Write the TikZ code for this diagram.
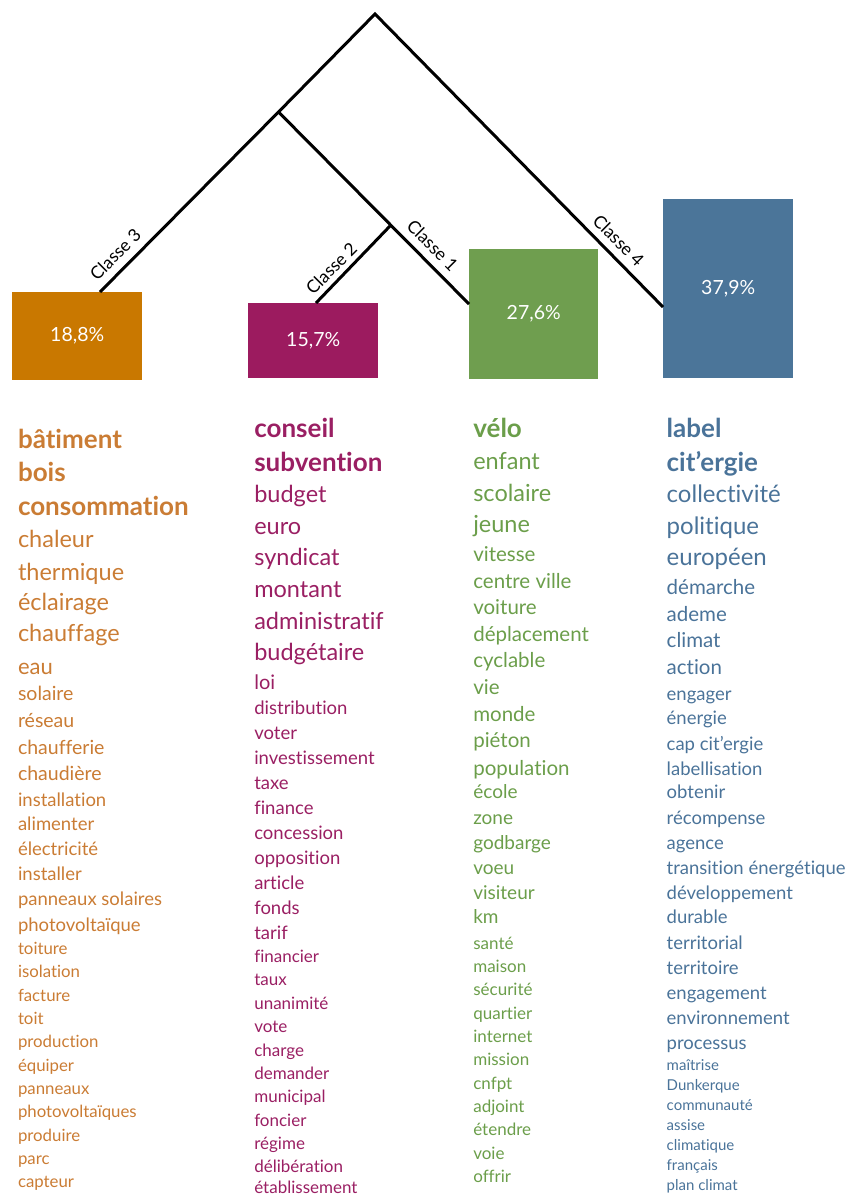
\documentclass[tikz,border=0pt]{standalone}
\usepackage{fontspec}
\setmainfont{Lato}[Ligatures=NoCommon]
\definecolor{obox}{HTML}{C97800}
\definecolor{otext}{HTML}{CA7C34}
\definecolor{pbox}{HTML}{9C1B5F}
\definecolor{ptext}{HTML}{9A1F63}
\definecolor{gbox}{HTML}{6F9E4F}
\definecolor{gtext}{HTML}{6B9E4A}
\definecolor{bbox}{HTML}{4B7599}
\definecolor{btext}{HTML}{4A7399}
\tikzset{
  w/.style={anchor=base west, inner sep=0pt, outer sep=0pt},
  ow/.style={w, text=otext},
  pw/.style={w, text=ptext},
  gw/.style={w, text=gtext},
  bw/.style={w, text=btext},
  fb/.style={font=\fontsize{26}{30}\selectfont\bfseries},
  fa/.style={font=\fontsize{23.5}{28}\selectfont},
  fa4/.style={font=\fontsize{24}{28}\selectfont},
  fe/.style={font=\fontsize{22}{26}\selectfont},
  fc/.style={font=\fontsize{20.5}{24}\selectfont},
  fl/.style={font=\fontsize{20}{24}\selectfont},
  fd/.style={font=\fontsize{19.5}{23}\selectfont},
  fg/.style={font=\fontsize{19}{23}\selectfont},
  fh/.style={font=\fontsize{18.5}{22}\selectfont},
  fi/.style={font=\fontsize{17}{20}\selectfont},
  fj/.style={font=\fontsize{16.8}{20}\selectfont},
  fk/.style={font=\fontsize{15}{18}\selectfont},
  box/.style={anchor=north west, inner sep=0pt, text=white, font=\fontsize{19.5}{23}\selectfont},
  cls/.style={inner sep=0pt, font=\fontsize{17.5}{20}\selectfont},
  branch/.style={line width=3pt, line join=miter, black},
}
\begin{document}
\begin{tikzpicture}[x=1pt, y=-1pt]
\useasboundingbox (0,0) rectangle (850,1196);
% boxes
\node[box, fill=obox, minimum width=130pt, minimum height=88pt] (c3) at (12,292) {18,8\%};
\node[box, fill=pbox, minimum width=130pt, minimum height=75pt] (c2) at (248,303) {15,7\%};
\node[box, fill=gbox, minimum width=129pt, minimum height=130pt] (c1) at (469,249) {27,6\%};
\node[box, fill=bbox, minimum width=130pt, minimum height=179pt] (c4) at (663,199) {37,9\%};
% tree
\coordinate (root) at (375,14);
\coordinate (n1) at (278.5,112);
\coordinate (n2) at (390,226);
\draw[branch] ([xshift=88pt]c3.north west) -- (n1) -- (root) -- ([yshift=-108pt]c4.north west);
\draw[branch] (n1) -- ([yshift=-55pt]c1.north west);
\draw[branch] (n2) -- ([xshift=68pt]c2.north west);
% class labels
\node[cls, rotate=45] (l3) at (115.3,254.3) {Classe 3};
\node[cls, rotate=45] (l2) at (331.3,268.3) {Classe 2};
\node[cls, rotate=-45] (l1) at (432.6,245.4) {Classe 1};
\node[cls, rotate=-45] (l4) at (618.6,240.4) {Classe 4};
% orange column
\node[ow, fb] (o1) at (18,448.3) {bâtiment};
\node[ow, fb] (o2) at (18,481) {bois};
\node[ow, fb] (o3) at (18,515) {consommation};
\node[ow, fa] (o4) at (18,547.7) {chaleur};
\node[ow, fa] (o5) at (18,580) {thermique};
\node[ow, fa] (o6) at (18,610.7) {éclairage};
\node[ow, fa] (o7) at (18,641.7) {chauffage};
\node[ow, fe] (o8) at (18,674) {eau};
\node[ow, fd] (o9) at (18,700.7) {solaire};
\node[ow, fd] (o10) at (18,727) {réseau};
\node[ow, fd] (o11) at (18,754) {chaufferie};
\node[ow, fd] (o12) at (18,780.7) {chaudière};
\node[ow, fh] (o13) at (18,806) {installation};
\node[ow, fh] (o14) at (18,830.7) {alimenter};
\node[ow, fh] (o15) at (18,855.7) {électricité};
\node[ow, fh] (o16) at (18,880.7) {installer};
\node[ow, fh] (o17) at (18,905.7) {panneaux solaires};
\node[ow, fh] (o18) at (18,931) {photovoltaïque};
\node[ow, fj] (o19) at (18,954.3) {toiture};
\node[ow, fj] (o20) at (18,977.7) {isolation};
\node[ow, fj] (o21) at (18,1001) {facture};
\node[ow, fj] (o22) at (18,1024.3) {toit};
\node[ow, fj] (o23) at (18,1047.7) {production};
\node[ow, fj] (o24) at (18,1071) {équiper};
\node[ow, fj] (o25) at (18,1094.3) {panneaux};
\node[ow, fj] (o26) at (18,1117.7) {photovoltaïques};
\node[ow, fj] (o27) at (18,1141) {produire};
\node[ow, fj] (o28) at (18,1164.3) {parc};
\node[ow, fj] (o29) at (18,1187.7) {capteur};
% purple column
\node[pw, fb] (q1) at (254.3,437.7) {conseil};
\node[pw, fb] (q2) at (254.3,471) {subvention};
\node[pw, fa] (q3) at (254.3,502.3) {budget};
\node[pw, fa] (q4) at (254.3,534.3) {euro};
\node[pw, fa] (q5) at (254.3,565.7) {syndicat};
\node[pw, fa] (q6) at (254.3,597.7) {montant};
\node[pw, fa] (q7) at (254.3,629.3) {administratif};
\node[pw, fa] (q8) at (254.3,660.7) {budgétaire};
\node[pw, fl] (q9) at (254.3,689) {loi};
\node[pw, fh] (q10) at (254.3,714.3) {distribution};
\node[pw, fh] (q11) at (254.3,739.3) {voter};
\node[pw, fh] (q12) at (254.3,764.3) {investissement};
\node[pw, fh] (q13) at (254.3,789.3) {taxe};
\node[pw, fh] (q14) at (254.3,814.3) {finance};
\node[pw, fh] (q15) at (254.3,839.3) {concession};
\node[pw, fh] (q16) at (254.3,864.3) {opposition};
\node[pw, fh] (q17) at (254.3,889.3) {article};
\node[pw, fh] (q18) at (254.3,914) {fonds};
\node[pw, fh] (q19) at (254.3,939) {tarif};
\node[pw, fi] (q20) at (254.3,962.3) {financier};
\node[pw, fi] (q21) at (254.3,985.7) {taux};
\node[pw, fi] (q22) at (254.3,1009.3) {unanimité};
\node[pw, fi] (q23) at (254.3,1032.7) {vote};
\node[pw, fi] (q24) at (254.3,1056) {charge};
\node[pw, fi] (q25) at (254.3,1079.3) {demander};
\node[pw, fi] (q26) at (254.3,1102.7) {municipal};
\node[pw, fi] (q27) at (254.3,1126) {foncier};
\node[pw, fi] (q28) at (254.3,1149.3) {régime};
\node[pw, fi] (q29) at (254.3,1172.7) {délibération};
\node[pw, fi] (q30) at (254.3,1193.5) {établissement};
% green column
\node[gw, fb] (g1) at (473.3,437.7) {vélo};
\node[gw, fa] (g2) at (473.3,469.3) {enfant};
\node[gw, fa] (g3) at (473.3,501) {scolaire};
\node[gw, fa] (g4) at (473.3,532.7) {jeune};
\node[gw, fc] (g5) at (473.3,561.7) {vitesse};
\node[gw, fc] (g6) at (473.3,588.3) {centre ville};
\node[gw, fc] (g7) at (473.3,614.3) {voiture};
\node[gw, fc] (g8) at (473.3,641) {déplacement};
\node[gw, fc] (g9) at (473.3,667.7) {cyclable};
\node[gw, fc] (g10) at (473.3,694.3) {vie};
\node[gw, fc] (g11) at (473.3,721) {monde};
\node[gw, fc] (g12) at (473.3,747.7) {piéton};
\node[gw, fc] (g13) at (473.3,775) {population};
\node[gw, fg] (g14) at (473.3,798.5) {école};
\node[gw, fg] (g15) at (473.3,824.3) {zone};
\node[gw, fg] (g16) at (473.3,849.3) {godbarge};
\node[gw, fg] (g17) at (473.3,874.3) {voeu};
\node[gw, fg] (g18) at (473.3,899.3) {visiteur};
\node[gw, fg] (g19) at (473.3,923.3) {km};
\node[gw, fi] (g20) at (473.3,949) {santé};
\node[gw, fi] (g21) at (473.3,972.3) {maison};
\node[gw, fi] (g22) at (473.3,995.7) {sécurité};
\node[gw, fi] (g23) at (473.3,1019) {quartier};
\node[gw, fi] (g24) at (473.3,1042.3) {internet};
\node[gw, fi] (g25) at (473.3,1065.7) {mission};
\node[gw, fi] (g26) at (473.3,1089) {cnfpt};
\node[gw, fi] (g27) at (473.3,1112.3) {adjoint};
\node[gw, fi] (g28) at (473.3,1135.7) {étendre};
\node[gw, fi] (g29) at (473.3,1159) {voie};
\node[gw, fi] (g30) at (473.3,1182.3) {offrir};
% blue column
\node[bw, fb] (b1) at (666.7,437.7) {label};
\node[bw, fb] (b2) at (666.7,471) {cit’ergie};
\node[bw, fa4] (b3) at (666.7,502.7) {collectivité};
\node[bw, fa4] (b4) at (666.7,534.3) {politique};
\node[bw, fa4] (b5) at (666.7,565.7) {européen};
\node[bw, fc] (b6) at (666.7,594.3) {démarche};
\node[bw, fc] (b7) at (666.7,621) {ademe};
\node[bw, fc] (b8) at (666.7,647.7) {climat};
\node[bw, fc] (b9) at (666.7,674.3) {action};
\node[bw, fh] (b10) at (666.7,700) {engager};
\node[bw, fh] (b11) at (666.7,724.3) {énergie};
\node[bw, fh] (b12) at (666.7,750) {cap cit’ergie};
\node[bw, fh] (b13) at (666.7,775) {labellisation};
\node[bw, fh] (b14) at (666.7,798.5) {obtenir};
\node[bw, fh] (b15) at (666.7,824.3) {récompense};
\node[bw, fh] (b16) at (666.7,849.3) {agence};
\node[bw, fh] (b17) at (666.7,874.3) {transition énergétique};
\node[bw, fh] (b18) at (666.7,899.3) {développement};
\node[bw, fh] (b19) at (666.7,923.3) {durable};
\node[bw, fh] (b20) at (666.7,949) {territorial};
\node[bw, fh] (b21) at (666.7,974) {territoire};
\node[bw, fh] (b22) at (666.7,999) {engagement};
\node[bw, fh] (b23) at (666.7,1024) {environnement};
\node[bw, fh] (b24) at (666.7,1049) {processus};
\node[bw, fk] (b25) at (666.7,1070.7) {maîtrise};
\node[bw, fk] (b26) at (666.7,1090.7) {Dunkerque};
\node[bw, fk] (b27) at (666.7,1110.7) {communauté};
\node[bw, fk] (b28) at (666.7,1130.7) {assise};
\node[bw, fk] (b29) at (666.7,1150.7) {climatique};
\node[bw, fk] (b30) at (666.7,1170.7) {français};
\node[bw, fk] (b31) at (666.7,1190.7) {plan climat};
\end{tikzpicture}
\end{document}
